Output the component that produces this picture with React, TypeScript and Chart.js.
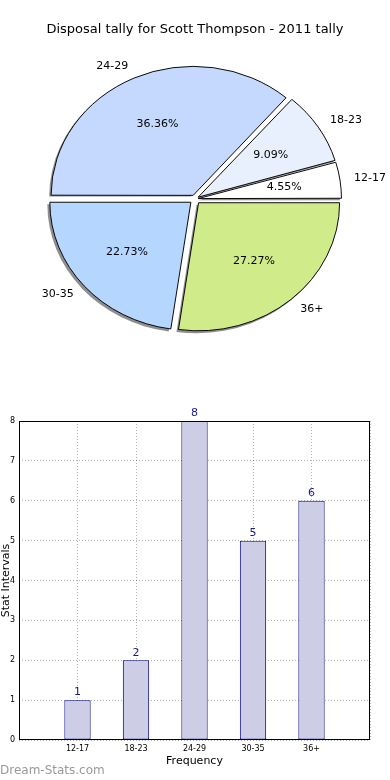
import React, { useEffect, useRef } from "react";
import { Chart, registerables } from "chart.js";

Chart.register(...registerables);

const TITLE = "Disposal tally for Scott Thompson - 2011 tally";
const categories = ["12-17", "18-23", "24-29", "30-35", "36+"];
const counts = [1, 2, 8, 5, 6];
const pieColors = ["#ffffff", "#e8f0fe", "#c5d9fe", "#b4d6ff", "#d0eb8a"];
const yTicks = [0, 1, 2, 3, 4, 5, 6, 7, 8];
const X_TITLE = "Frequency";
const Y_TITLE = "Stat Intervals";
const WATERMARK = "Dream-Stats.com";

const FONT = "'DejaVu Sans', sans-serif";
const RX = 141;
const RY = 128;
const E = RY / RX;
const EXPLODE = 5.5;

// pie drawn clockwise in Chart.js, so reverse to mimic counter-clockwise order
const pieLabels = [...categories].reverse();
const pieValues = [...counts].reverse();
const pieBg = [...pieColors].reverse();
const total = counts.reduce((a, b) => a + b, 0);
const pieOffsets = pieValues.map((v) => {
  const circ = (v / total) * Math.PI * 2;
  const fix = 1 - Math.sin(Math.min(Math.PI, circ));
  return (4 * EXPLODE) / (1 + fix);
});

const piePlugin = {
  id: "pieDecor",
  beforeDatasetsDraw(chart: any) {
    const ctx = chart.ctx;
    const arcs = chart.getDatasetMeta(0).data;
    if (!arcs.length) return;
    const cx = arcs[0].x;
    const cy = arcs[0].y;
    // shadows
    ctx.save();
    ctx.translate(-2, 2);
    ctx.translate(cx, cy);
    ctx.scale(1, E);
    ctx.translate(-cx, -cy);
    ctx.fillStyle = "rgba(30,30,30,0.5)";
    arcs.forEach((a: any) => {
      const mid = (a.startAngle + a.endAngle) / 2;
      const x = a.x + Math.cos(mid) * EXPLODE;
      const y = a.y + Math.sin(mid) * EXPLODE;
      ctx.beginPath();
      ctx.moveTo(x, y);
      ctx.arc(x, y, a.outerRadius + 0.5, a.startAngle, a.endAngle);
      ctx.closePath();
      ctx.fill();
    });
    ctx.restore();
    // elliptical transform for the real arcs
    ctx.save();
    ctx.translate(cx, cy);
    ctx.scale(1, E);
    ctx.translate(-cx, -cy);
  },
  afterDatasetsDraw(chart: any) {
    const ctx = chart.ctx;
    ctx.restore();
    const arcs = chart.getDatasetMeta(0).data;
    ctx.save();
    ctx.fillStyle = "#000";
    ctx.font = `11px ${FONT}`;
    ctx.textBaseline = "middle";
    arcs.forEach((a: any, i: number) => {
      const mid = (a.startAngle + a.endAngle) / 2;
      const c = Math.cos(mid);
      const s = Math.sin(mid);
      const r = a.outerRadius;
      const lx = a.x + c * (r * 1.1 + EXPLODE);
      const ly = a.y + s * (r * 1.1 + EXPLODE) * E;
      ctx.textAlign = c >= 0 ? "left" : "right";
      ctx.fillText(pieLabels[i], lx, ly);
      const px = a.x + c * (r * 0.6 + EXPLODE);
      const py = a.y + s * (r * 0.6 + EXPLODE) * E;
      ctx.textAlign = "center";
      const pct = ((pieValues[i] / total) * 100).toFixed(2) + "%";
      ctx.fillText(pct, px, py);
    });
    ctx.restore();
  },
};

const barPlugin = {
  id: "barDecor",
  afterDraw(chart: any) {
    const { ctx, chartArea: a } = chart;
    ctx.save();
    ctx.strokeStyle = "#000";
    ctx.lineWidth = 1;
    ctx.strokeRect(
      Math.round(a.left) + 0.5,
      Math.round(a.top) + 0.5,
      Math.round(a.right - a.left) - 1,
      Math.round(a.bottom - a.top) - 1
    );
    ctx.fillStyle = "#1a1a8c";
    ctx.font = `11px ${FONT}`;
    ctx.textAlign = "center";
    ctx.textBaseline = "bottom";
    chart.getDatasetMeta(0).data.forEach((bar: any, i: number) => {
      ctx.fillText(String(counts[i]), bar.x, bar.y - 2);
    });
    ctx.restore();
  },
};

export default function App() {
  const pieRef = useRef<HTMLCanvasElement>(null);
  const barRef = useRef<HTMLCanvasElement>(null);

  useEffect(() => {
    const pie = new Chart(pieRef.current as HTMLCanvasElement, {
      type: "pie",
      data: {
        labels: pieLabels,
        datasets: [
          {
            data: pieValues,
            backgroundColor: pieBg,
            borderColor: "#000",
            borderWidth: 1,
            offset: pieOffsets,
            hoverOffset: 0,
            radius: RX,
          } as any,
        ],
      },
      options: {
        animation: false,
        responsive: false,
        events: [],
        rotation: 90,
        layout: { padding: { top: 0, left: 0, right: 0, bottom: 49.6 } },
        plugins: {
          legend: { display: false },
          tooltip: { enabled: false },
          title: {
            display: true,
            text: TITLE,
            color: "#000",
            font: { family: FONT, size: 13, weight: "normal" },
            padding: { top: 22, bottom: 10 },
          },
        },
      } as any,
      plugins: [piePlugin],
    });

    const bar = new Chart(barRef.current as HTMLCanvasElement, {
      type: "bar",
      data: {
        datasets: [
          {
            data: categories.map((c, i) => ({ x: i + 1, y: counts[i] })),
            backgroundColor: "#cdcde6",
            borderColor: "#000080",
            borderWidth: 1,
            borderSkipped: false,
            barPercentage: 0.45,
            categoryPercentage: 1,
          } as any,
        ],
      },
      options: {
        animation: false,
        responsive: false,
        events: [],
        layout: { padding: { top: 21, right: 20, left: 0, bottom: 0 } },
        plugins: { legend: { display: false }, tooltip: { enabled: false } },
        scales: {
          x: {
            type: "linear",
            min: 0,
            max: 6,
            offset: false,
            z: 1,
            ticks: {
              stepSize: 1,
              autoSkip: false,
              maxRotation: 0,
              padding: 4,
              color: "#000",
              font: { family: FONT, size: 8 },
              callback: (v: any) => categories[Number(v) - 1] ?? "",
            },
            grid: {
              color: "rgba(0,0,0,0.3)",
              drawTicks: false,
              lineWidth: 1,
              offset: false,
            },
            border: { display: false, dash: [1, 2] },
            title: {
              display: true,
              text: X_TITLE,
              color: "#000",
              font: { family: FONT, size: 11 },
              padding: { top: 0, bottom: 12 },
            },
            afterFit: (s: any) => {
              s.height = 40;
            },
          },
          y: {
            type: "linear",
            min: yTicks[0],
            max: yTicks[yTicks.length - 1],
            z: 1,
            ticks: {
              stepSize: 1,
              padding: 4,
              color: "#000",
              font: { family: FONT, size: 8 },
            },
            grid: { color: "rgba(0,0,0,0.3)", drawTicks: false, lineWidth: 1 },
            border: { display: false, dash: [1, 2] },
            title: {
              display: true,
              text: Y_TITLE,
              color: "#000",
              font: { family: FONT, size: 11, lineHeight: "12px" },
              padding: 0,
            },
            afterFit: (s: any) => {
              s.width = 19;
            },
          },
        },
      } as any,
      plugins: [barPlugin],
    });

    return () => {
      pie.destroy();
      bar.destroy();
    };
  }, []);

  return (
    <div
      style={{
        position: "absolute",
        left: 0,
        top: 0,
        width: 390,
        height: 780,
        background: "#fff",
        overflow: "hidden",
      }}
    >
      <canvas
        ref={pieRef}
        width={390}
        height={400}
        style={{ position: "absolute", left: 0, top: 0, width: 390, height: 400 }}
      />
      <canvas
        ref={barRef}
        width={390}
        height={380}
        style={{ position: "absolute", left: 0, top: 400, width: 390, height: 380 }}
      />
      <div
        style={{
          position: "absolute",
          left: 0,
          top: 762,
          fontFamily: FONT,
          fontSize: 12,
          lineHeight: "16px",
          color: "#999999",
          whiteSpace: "nowrap",
        }}
      >
        {WATERMARK}
      </div>
    </div>
  );
}
